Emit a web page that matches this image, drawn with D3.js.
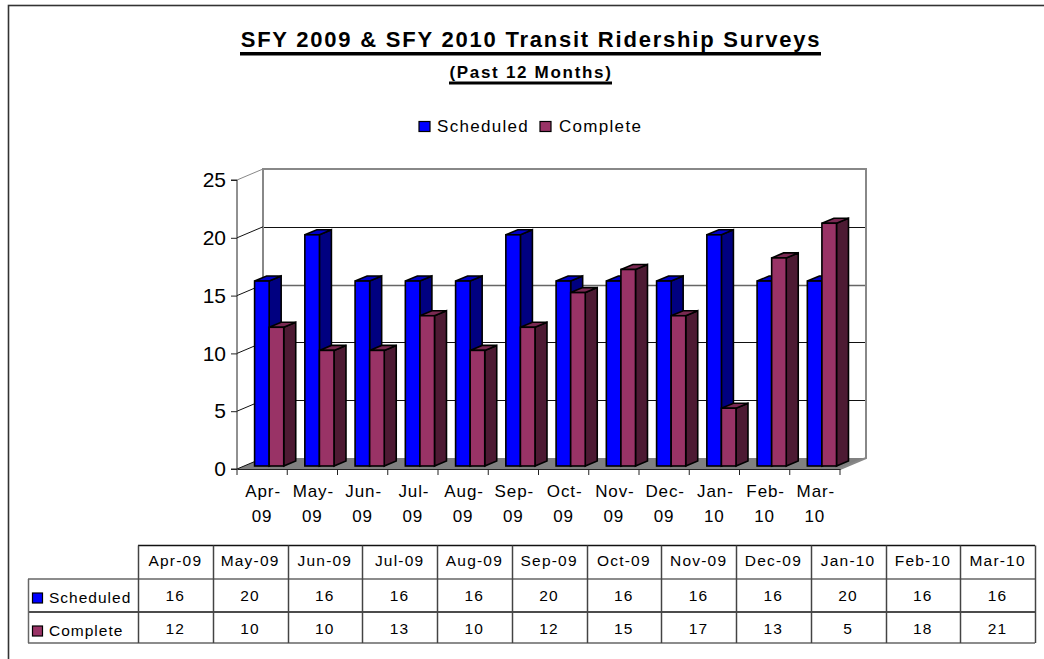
<!DOCTYPE html>
<html>
<head>
<meta charset="utf-8">
<script src="https://cdn.jsdelivr.net/npm/d3@7"></script>
<style>
html, body { margin: 0; padding: 0; background: #fff; }
svg { display: block; }
text { font-family: "Liberation Sans", Arial, sans-serif; fill: #000; }
</style>
</head>
<body>
<script>
const months = ["Apr-09", "May-09", "Jun-09", "Jul-09", "Aug-09", "Sep-09", "Oct-09", "Nov-09", "Dec-09", "Jan-10", "Feb-10", "Mar-10"];
const scheduled = [16, 20, 16, 16, 16, 20, 16, 16, 16, 20, 16, 16];
const complete = [12, 10, 10, 13, 10, 12, 15, 17, 13, 5, 18, 21];
const seriesNames = ["Scheduled", "Complete"];
const yTicks = [0, 5, 10, 15, 20, 25];

const colors = {
    Scheduled: {front: "#0000ff", top: "#0000c8", side: "#000080"},
    Complete: {front: "#993366", top: "#7a2952", side: "#4d1a33"}
};

const width = 1044, height = 659;
// 3d offset of the back wall and of the bars
const wallX = 26, wallY = -11;
const barX = 12, barY = -5, barFloor = -3;

const svg = d3.select("body").append("svg")
    .attr("width", width)
    .attr("height", height);

// chart frame, right and bottom edges fall outside the picture
svg.append("rect")
    .attr("x", 8.5).attr("y", 5.5)
    .attr("width", 1060).attr("height", 680)
    .attr("fill", "#fff").attr("stroke", "#333").attr("stroke-width", 1.6);

// scales
const x = d3.scaleBand().domain(months).range([237, 840]);
const y = d3.scaleLinear().domain([0, 25]).range([469, 180]);

// title
svg.append("text").attr("x", 531).attr("y", 47)
    .attr("text-anchor", "middle")
    .style("font-size", "22px").style("font-weight", "bold").style("letter-spacing", "1.78px")
    .text("SFY 2009 & SFY 2010 Transit Ridership Surveys");
svg.append("rect").attr("x", 240).attr("y", 52).attr("width", 581).attr("height", 3.5).attr("fill", "#000");
svg.append("text").attr("x", 531).attr("y", 78)
    .attr("text-anchor", "middle")
    .style("font-size", "17px").style("font-weight", "bold").style("letter-spacing", "1.7px")
    .text("(Past 12 Months)");
svg.append("rect").attr("x", 449).attr("y", 81.5).attr("width", 163).attr("height", 3).attr("fill", "#000");

// legend
const legendX = [419, 540];
seriesNames.forEach((name, i) => {
    svg.append("rect").attr("x", legendX[i]).attr("y", 121.5)
        .attr("width", 11).attr("height", 10)
        .attr("fill", colors[name].front).attr("stroke", "#000").attr("stroke-width", 1.2);
    svg.append("text").attr("x", legendX[i] + (i ? 19 : 18)).attr("y", 132)
        .style("font-size", "17px").style("letter-spacing", "1.3px")
        .text(name);
});

// back wall and floor
const wall = svg.append("g");
const path = d3.path();
path.moveTo(x.range()[0], y(0));
path.lineTo(x.range()[0] + wallX, y(0) + wallY);
path.lineTo(x.range()[1] + wallX, y(0) + wallY);
path.lineTo(x.range()[1], y(0));
path.closePath();
wall.append("path").attr("d", path.toString()).attr("fill", "#808080");

wall.selectAll("line.grid")
    .data(yTicks.slice(1, 5))
    .join("line")
    .attr("class", "grid")
    .attr("x1", x.range()[0] + wallX).attr("x2", x.range()[1] + wallX)
    .attr("y1", d => Math.round(y(d) + wallY) + 0.5).attr("y2", d => Math.round(y(d) + wallY) + 0.5)
    .attr("stroke", d => d === 15 ? "#666" : "#111")
    .attr("stroke-width", d => d === 15 ? 1.5 : 1.1);

// wall outline, grey
wall.append("path")
    .attr("d", d3.line()([
        [x.range()[0] + wallX, y(0) + wallY],
        [x.range()[0] + wallX, y(25) + wallY],
        [x.range()[1] + wallX, y(25) + wallY],
        [x.range()[1] + wallX, y(0) + wallY],
        [x.range()[1], y(0)]
    ]))
    .attr("fill", "none").attr("stroke", "#888").attr("stroke-width", 2);

// slanted ticks running from the axis to the wall
wall.selectAll("line.slant")
    .data(yTicks)
    .join("line")
    .attr("class", "slant")
    .attr("x1", x.range()[0]).attr("x2", x.range()[0] + wallX)
    .attr("y1", d => y(d)).attr("y2", d => y(d) + wallY)
    .attr("stroke", d => d === 25 ? "#888" : "#111");

// bars
const barW = x.bandwidth() * 0.29;
const barOff = x.bandwidth() * 0.35;
const rows = [scheduled, complete];

seriesNames.forEach((name, s) => {
    const g = svg.append("g");
    const bars = g.selectAll("g")
        .data(rows[s].map((v, i) => ({m: months[i], v})))
        .join("g")
        .attr("transform", d => `translate(${x(d.m) + barOff + s * barW},${barFloor})`);

    bars.append("path") // side
        .attr("d", d => d3.line()([
            [barW, y(d.v)], [barW + barX, y(d.v) + barY],
            [barW + barX, y(0) + barY], [barW, y(0)]
        ]) + "Z")
        .attr("fill", colors[name].side).attr("stroke", "#000").attr("stroke-width", 1.6);
    bars.append("path") // top
        .attr("d", d => d3.line()([
            [0, y(d.v)], [barX, y(d.v) + barY],
            [barW + barX, y(d.v) + barY], [barW, y(d.v)]
        ]) + "Z")
        .attr("fill", colors[name].top).attr("stroke", "#000").attr("stroke-width", 1.6);
    bars.append("rect") // front
        .attr("y", d => y(d.v))
        .attr("width", barW)
        .attr("height", d => y(0) - y(d.v))
        .attr("fill", colors[name].front).attr("stroke", "#000").attr("stroke-width", 1.6);
});

// y axis
const yAxis = svg.append("g")
    .attr("transform", `translate(${x.range()[0]},0)`)
    .call(d3.axisLeft(y).tickValues(yTicks).tickSize(6).tickPadding(5));
yAxis.selectAll("text").style("font-size", "21px");
yAxis.selectAll("line, path").attr("stroke", "#222");
yAxis.select("path").attr("d", `M-6,${y(25)}H0V${y(0)}H-6`);

// x axis, labels broken after the hyphen
const xAxis = svg.append("g")
    .attr("transform", `translate(0,${y(0)})`)
    .call(d3.axisBottom(x).tickSize(0).tickFormat(""));
xAxis.select("path").attr("stroke", "#222");
xAxis.selectAll(".tick").remove();
xAxis.selectAll("line.edge")
    .data(d3.range(months.length + 1))
    .join("line")
    .attr("class", "edge")
    .attr("x1", i => x.range()[0] + i * x.step())
    .attr("x2", i => x.range()[0] + i * x.step())
    .attr("y1", 0).attr("y2", 6)
    .attr("stroke", "#222");
const xLabels = xAxis.selectAll("text.lab")
    .data(months)
    .join("text")
    .attr("class", "lab")
    .attr("text-anchor", "middle")
    .style("font-size", "17px").style("letter-spacing", "0.9px");
xLabels.append("tspan").attr("x", d => x(d) + x.bandwidth() / 2 + 1).attr("y", 28)
    .text(d => d.split("-")[0] + "-");
xLabels.append("tspan").attr("x", d => x(d) + x.bandwidth() / 2).attr("y", 53)
    .text(d => d.split("-")[1]);

// data table
const colX = d3.scaleBand().domain(months).range([138, 1035]);
const rowY = d3.scaleOrdinal().domain(["head", ...seriesNames]).range([545.5, 579, 612]);
const tableBottom = 643;
const table = svg.append("g");

table.selectAll("line.hrow")
    .data(["head", ...seriesNames, null])
    .join("line")
    .attr("class", "hrow")
    .attr("x1", (d, i) => i === 0 ? colX.range()[0] : 28)
    .attr("x2", colX.range()[1])
    .attr("y1", d => d ? rowY(d) : tableBottom)
    .attr("y2", d => d ? rowY(d) : tableBottom)
    .attr("stroke", (d, i) => i % 2 ? "#666" : "#111")
    .attr("stroke-width", 1.5);
table.selectAll("line.vcol")
    .data([...months, null])
    .join("line")
    .attr("class", "vcol")
    .attr("x1", d => Math.round(d ? colX(d) : colX.range()[1]) + 0.5)
    .attr("x2", d => Math.round(d ? colX(d) : colX.range()[1]) + 0.5)
    .attr("y1", rowY("head"))
    .attr("y2", tableBottom)
    .attr("stroke", "#444")
    .attr("stroke-width", 1.5);
table.append("line")
    .attr("x1", 28.5).attr("x2", 28.5)
    .attr("y1", rowY("Scheduled")).attr("y2", tableBottom)
    .attr("stroke", "#666").attr("stroke-width", 1.5);

table.selectAll("text.head")
    .data(months)
    .join("text")
    .attr("class", "head")
    .attr("x", d => colX(d) + colX.bandwidth() / 2)
    .attr("y", rowY("head") + 20.5)
    .attr("text-anchor", "middle")
    .style("font-size", "15.5px").style("letter-spacing", "1.2px")
    .text(d => d);

seriesNames.forEach((name, s) => {
    table.append("rect")
        .attr("x", 32.5).attr("y", rowY(name) + 14)
        .attr("width", 10).attr("height", 10)
        .attr("fill", colors[name].front).attr("stroke", "#000").attr("stroke-width", 1.2);
    table.append("text")
        .attr("x", 49).attr("y", rowY(name) + 24)
        .style("font-size", "15.5px").style("letter-spacing", "1px")
        .text(name);
    table.selectAll("text.v" + s)
        .data(rows[s])
        .join("text")
        .attr("class", "v" + s)
        .attr("x", (d, i) => colX(months[i]) + colX.bandwidth() / 2)
        .attr("y", rowY(name) + 22)
        .attr("text-anchor", "middle")
        .style("font-size", "15.5px").style("letter-spacing", "1.2px")
        .text(d => d);
});
</script>
</body>
</html>
